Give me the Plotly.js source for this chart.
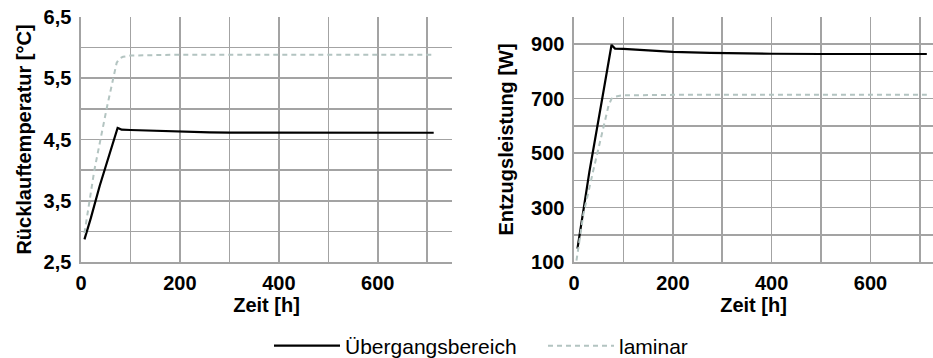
<!DOCTYPE html>
<html>
<head>
<meta charset="utf-8">
<script src="https://cdn.plot.ly/plotly-3.0.1.min.js"></script>
<style>html,body{margin:0;padding:0;background:#fff;}#chart{width:933px;height:358px;}</style>
</head>
<body>
<div id="chart"></div>
<script>
// ---- Data ----
// Left: Rücklauftemperatur [°C]
const tTempUeb = [7, 20, 38, 55, 74, 77, 82, 100, 150, 200, 260, 300, 400, 500, 600, 713];
const tempUeb  = [2.87, 3.22, 3.75, 4.20, 4.69, 4.68, 4.66, 4.655, 4.64, 4.63, 4.617, 4.612, 4.61, 4.61, 4.61, 4.61];
const tTempLam = [7, 18, 27, 52, 65, 72, 77, 85, 100, 150, 200, 400, 600, 713];
const tempLam  = [2.97, 3.5, 4.0, 5.01, 5.5, 5.75, 5.82, 5.85, 5.87, 5.88, 5.885, 5.885, 5.885, 5.885];
// Right: Entzugsleistung [W]
const tPowUeb = [7, 31, 59, 76, 78, 83, 100, 150, 200, 275, 300, 400, 500, 600, 714];
const powUeb  = [149, 430, 720, 898, 893, 884, 883, 877, 872, 868, 867, 865, 864, 864, 864];
const tPowLam = [5, 19, 39, 63, 70, 76, 85, 97, 150, 200, 400, 600, 714];
const powLam  = [105, 276, 436, 620, 675, 700, 708, 712, 714, 714, 714, 714, 714];

const seriesNames = ['Übergangsbereich', 'laminar'];
const xTickVals = [0, 200, 400, 600];
const xTickText = ['0', '200', '400', '600'];
const yTempTickVals = [2.5, 3.5, 4.5, 5.5, 6.5];
const yTempTickText = ['2,5', '3,5', '4,5', '5,5', '6,5'];
const yPowTickVals = [100, 300, 500, 700, 900];
const yPowTickText = ['100', '300', '500', '700', '900'];

// ---- Styles ----
const FONT = 'Liberation Sans, Arial, Helvetica, sans-serif';
const gridCol = '#a3a3a3';
const gridW = 1.6;
const lamCol = '#b3c4c1';
const W = 933, H = 358;
const yDom = [(H - 262) / H, (H - 17) / H];

const solid = {color: '#000000', width: 2.2};
const dashed = {color: lamCol, width: 2, dash: '5px,4px'};

const traces = [
  {x: tTempUeb, y: tempUeb, type: 'scatter', mode: 'lines', name: seriesNames[0], line: solid, xaxis: 'x', yaxis: 'y', showlegend: true},
  {x: tTempLam, y: tempLam, type: 'scatter', mode: 'lines', name: seriesNames[1], line: dashed, xaxis: 'x', yaxis: 'y', showlegend: true},
  {x: tPowUeb, y: powUeb, type: 'scatter', mode: 'lines', name: seriesNames[0], line: solid, xaxis: 'x2', yaxis: 'y2', showlegend: false},
  {x: tPowLam, y: powLam, type: 'scatter', mode: 'lines', name: seriesNames[1], line: dashed, xaxis: 'x2', yaxis: 'y2', showlegend: false}
];

const tickFont = {family: FONT, size: 20, color: '#000', weight: 'bold'};
const titleFont = {family: FONT, size: 20, color: '#000', weight: 'bold'};

function xAx(domain, range) {
  return {
    domain: domain, range: range, tickvals: xTickVals, ticktext: xTickText,
    showgrid: true, gridcolor: gridCol, gridwidth: gridW, zeroline: false,
    showline: true, linecolor: gridCol, linewidth: gridW, mirror: false,
    minor: {tickvals: [100, 300, 500, 700], showgrid: true, gridcolor: gridCol, gridwidth: gridW},
    ticks: '', tickfont: tickFont, ticklabelstandoff: 2,
    title: {text: 'Zeit [h]', font: titleFont, standoff: 4}, fixedrange: true
  };
}
function yAx(domain, range, tv, tt, minorVals, title, anchor, standoff) {
  return {
    domain: domain, range: range, tickvals: tv, ticktext: tt, anchor: anchor,
    showgrid: true, gridcolor: gridCol, gridwidth: gridW, zeroline: false,
    showline: true, linecolor: gridCol, linewidth: gridW, mirror: false,
    minor: {tickvals: minorVals, showgrid: true, gridcolor: gridCol, gridwidth: gridW},
    ticks: '', tickfont: tickFont, ticklabelstandoff: 4,
    title: {text: title, font: titleFont, standoff: standoff}, fixedrange: true
  };
}

const layout = {
  width: W, height: H,
  margin: {l: 0, r: 0, t: 0, b: 0, pad: 0, autoexpand: false},
  paper_bgcolor: '#fff', plot_bgcolor: '#fff',
  font: {family: FONT, color: '#000'},
  xaxis: Object.assign(xAx([81 / W, 452 / W], [0, 750]), {anchor: 'y'}),
  yaxis: yAx(yDom, [2.5, 6.5], yTempTickVals, yTempTickText, [3.0, 4.0, 5.0, 6.0], 'Rücklauftemperatur [°C]', 'x', 6),
  xaxis2: Object.assign(xAx([574 / W, 1], [0, 726.5]), {anchor: 'y2'}),
  yaxis2: yAx(yDom, [100, 1000], yPowTickVals, yPowTickText, [200, 400, 600, 800, 1000], 'Entzugsleistung [W]', 'x2', 12),
  showlegend: true,
  legend: {
    orientation: 'h', x: 269 / W, xanchor: 'left', y: (H - 346) / H, yanchor: 'middle',
    font: {family: FONT, size: 21, color: '#000'},
    itemwidth: 66, entrywidth: 193, entrywidthmode: 'pixels', tracegroupgap: 0, bgcolor: 'rgba(0,0,0,0)'
  }
};

Plotly.newPlot('chart', traces, layout, {staticPlot: true, displayModeBar: false});
</script>
</body>
</html>
